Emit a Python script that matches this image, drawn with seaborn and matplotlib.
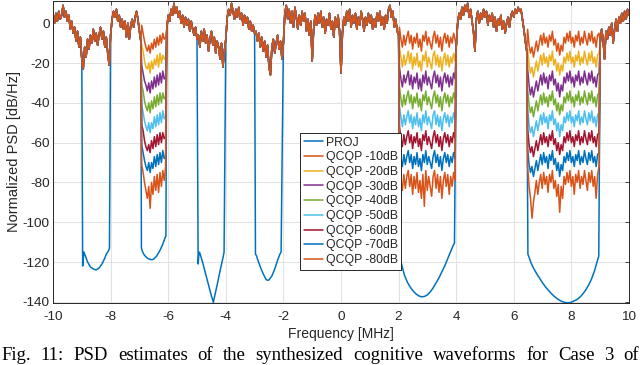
import numpy as np
import pandas as pd
import matplotlib
matplotlib.use("Agg")
import matplotlib.pyplot as plt
import seaborn as sns

# ------------------------------------------------------------------ data
series_names = ["PROJ", "QCQP -10dB", "QCQP -20dB", "QCQP -30dB", "QCQP -40dB",
                "QCQP -50dB", "QCQP -60dB", "QCQP -70dB", "QCQP -80dB"]
series_colors = ["#0072BD", "#D95319", "#EDB120", "#7E2F8E", "#77AC30",
                 "#4DBEEE", "#A2142F", "#0072BD", "#D95319"]
x_ticks = [-10, -8, -6, -4, -2, 0, 2, 4, 6, 8, 10]
y_ticks = [-140, -120, -100, -80, -60, -40, -20, 0]
caption = "Fig. 11: PSD estimates of the synthesized cognitive waveforms for Case 3 of"

# shared PSD (all waveforms) on a 0.05 MHz grid
common_a = [3, 0, 5, 1, 6, 2, 4, 9, 3, 6, 1, 4, -3, 1, -5, -2, -9, -4, -12, -7, -18,
            -23, -12, -17, -8, -13, -6, -10, -3, -9, -5, -11, -6, -2, -8, -4, -12, -7, -15, -21,
            -6, 2, 6, 3, 7, 1, 4, -2, 2, -3, 1, -7, 0, -8, -1, 2, -2, 3, 6, 2, -4, -9]
common_b = [-3, 4, 1, 7, 4, 10, 5, 8, 3, 6, 0, 4, -2, 3, -1, 2, -4, 1, -3, -6, -2, -8,
            -6, -12, -4, -9, -3, -10, -6, -14, -8, -4, -11, -7, -15, -9, -12, -18, -10, -22, -14,
            -8, 3, 7, 4, 10, 6, 2, 7, 3, 8, 2, 5, -1, 4, 0, 3, -3, 1, -4, -1, -5,
            -4, -9, -5, -12, -7, -14, -9, -17, -11, -22, -26, -12, -8, -15, -10, -6, -13, -9, -18,
            -10, 5, 9, 2, 7, 0, 6, -2, 8, 3, -3, 4, -1, 6, 1, 5, -4, 2, -6, 1,
            -19, -3, 4, -1, 5, 0, 6, -2, 3, -5, 2, -1, 5, -3, 1, -7, 3, -2, 4, -4,
            -25, -5, 3, -1, 6, 1, 7, -2, 4, 0, 5, -3, 3, -1, 6, 2, -4, 3, -1, 5,
            0, 4, -3, 2, -2, 5, 1, 6, -1, 3, -3, 4, 0, 7, 9, 3, 6, -2, 2, -4, -6]
common_c = [-12, 0, 5, 2, 8, 4, 9, 6, 10, 3, 7, 1, -4, -14, 2, 6, 0, 5, 2, 7,
            3, 6, -1, 4, 1, 5, -2, 3, -4, 2, -1, 4, -3, 1, -5, 0, 3, -2, 4, 6,
            3, 7, 5, 8, 6, 7, 2, -3, -9, -14]
common_d = [-10, -3, -8, -18, -4, -8, -2, -6, 0, -10, -3, 2, -4, 3, 0, 5, 1, 6, 2, 7, 4]

# PROJ nulls
null_a_freq = [-8.97, -8.93, -8.9, -8.85, -8.8, -8.7, -8.6, -8.5, -8.4, -8.3, -8.2, -8.15, -8.1, -8.06, -8.04]
null_a_psd = [-122, -115, -116, -118, -120, -122.5, -123.5, -124, -123, -121, -118, -116, -115, -114, -113]
null_b_freq = [-6.93, -6.9, -6.85, -6.8, -6.7, -6.6, -6.55, -6.5, -6.4, -6.3, -6.2, -6.15, -6.1, -6.08]
null_b_psd = [-113, -114.5, -116, -117, -118.3, -118.8, -118.8, -118.5, -117, -114.5, -111.5, -109.5, -107.5, -107]
null_c_freq = [-4.96, -4.93, -4.9, -4.8, -4.7, -4.6, -4.5, -4.45, -4.43, -4.4, -4.3, -4.2, -4.1, -4.06]
null_c_psd = [-121, -115, -115.5, -120.5, -126, -131.5, -137, -139.5, -140.3, -138, -131.5, -124.5, -118, -115]
null_d_freq = [-2.97, -2.93, -2.9, -2.8, -2.7, -2.6, -2.55, -2.5, -2.4, -2.3, -2.2, -2.12, -2.08]
null_d_psd = [-116, -117, -118.5, -122.5, -126, -128.8, -129.2, -129, -127, -123.5, -119, -116, -115]
null_e_freq = [2.03, 2.06, 2.1, 2.2, 2.3, 2.4, 2.5, 2.6, 2.7, 2.8, 2.9, 3.0, 3.1, 3.2, 3.3,
               3.4, 3.5, 3.6, 3.7, 3.8, 3.9, 3.94]
null_e_psd = [-116, -118, -121, -126.5, -130, -132.5, -134.5, -136, -137, -137.5, -137.3, -136.5,
              -135, -133, -130.5, -128, -125, -122, -118.5, -115, -111.5, -110.5]
null_f_freq = [6.49, 6.55, 6.6, 6.7, 6.8, 6.9, 7.0, 7.1, 7.2, 7.3, 7.4, 7.5, 7.6, 7.7, 7.8, 7.9,
               8.0, 8.1, 8.2, 8.3, 8.4, 8.5, 8.6, 8.7, 8.8, 8.9, 8.95]
null_f_psd = [-116, -118.5, -120.5, -123.5, -126, -128.3, -130.5, -132.5, -134.2, -135.8, -137.2,
              -138.4, -139.3, -140, -140.4, -140.5, -140.2, -139.5, -138.8, -137.6, -136, -134,
              -131.5, -128.5, -124.5, -119.5, -117]

# QCQP notch bands (-6.92..-6.09, 2.03..3.96, 6.48..8.96 MHz)
notch_b_10 = [-1, -5, -9, -12, -14, -11, -15, -10, -13, -8, -12, -7, -11, -6, -10, -5, -8, -7]
notch_b_20 = [-11, -14, -19, -22, -23, -20, -25, -19, -23, -18, -21, -16, -22, -15, -20, -16, -18, -17]
notch_b_30 = [-21, -25, -29, -31, -34, -30, -35, -29, -33, -27, -32, -26, -31, -25, -30, -24, -28, -27]
notch_b_40 = [-31, -34, -39, -42, -44, -40, -45, -39, -43, -37, -42, -36, -41, -35, -40, -35, -38, -37]
notch_b_50 = [-41, -45, -49, -52, -54, -50, -55, -50, -53, -47, -52, -46, -51, -45, -50, -44, -48, -47]
notch_b_60 = [-51, -54, -59, -62, -64, -61, -65, -59, -63, -57, -62, -56, -61, -55, -60, -55, -58, -57]
notch_b_70 = [-61, -65, -69, -72, -74, -70, -75, -70, -73, -67, -72, -66, -71, -65, -70, -64, -68, -67]
notch_b_80 = [-71, -75, -80, -84, -88, -82, -93, -80, -86, -77, -84, -76, -85, -75, -82, -74, -79, -72]

notch_e_10 = [-2, -8, -12, -6, -11, -7, -4, -10, -6, -13, -7, -10, -5, -12, -8, -14, -6, -9, -4, -11,
              -7, -10, -13, -7, -4, -10, -6, -12, -7, -14, -8, -5, -10, -6, -12, -7, -10, -5, -8]
notch_e_20 = [-12, -17, -22, -16, -21, -18, -14, -20, -15, -23, -17, -21, -15, -22, -19, -24, -16, -19, -14, -22,
              -17, -20, -23, -16, -14, -21, -16, -22, -17, -24, -18, -15, -21, -16, -22, -17, -20, -15, -19]
notch_e_30 = [-22, -28, -32, -26, -30, -27, -24, -31, -26, -33, -27, -30, -25, -33, -28, -34, -26, -30, -24, -31,
              -27, -30, -33, -27, -24, -30, -26, -32, -27, -34, -28, -25, -30, -26, -32, -27, -31, -25, -28]
notch_e_40 = [-32, -38, -42, -36, -41, -37, -34, -40, -36, -43, -37, -40, -35, -42, -38, -44, -36, -39, -34, -41,
              -37, -40, -43, -37, -34, -40, -36, -42, -37, -44, -38, -35, -40, -36, -42, -37, -40, -35, -38]
notch_e_50 = [-42, -47, -52, -46, -51, -47, -44, -50, -46, -53, -47, -51, -45, -52, -48, -54, -46, -50, -44, -51,
              -47, -50, -53, -46, -44, -51, -46, -52, -47, -54, -48, -45, -50, -46, -52, -47, -50, -45, -48]
notch_e_60 = [-52, -58, -62, -56, -61, -57, -54, -60, -56, -63, -57, -60, -55, -62, -58, -64, -56, -59, -54, -61,
              -57, -60, -63, -57, -54, -60, -56, -62, -57, -64, -58, -55, -60, -56, -62, -57, -60, -55, -58]
notch_e_70 = [-62, -68, -72, -66, -71, -67, -64, -70, -66, -73, -67, -71, -65, -72, -68, -74, -66, -70, -64, -71,
              -67, -70, -73, -67, -64, -70, -66, -72, -67, -74, -68, -65, -70, -66, -72, -67, -70, -65, -68]
notch_e_80 = [-72, -79, -84, -76, -83, -77, -74, -82, -76, -86, -77, -83, -75, -85, -79, -88, -76, -92, -74, -84,
              -77, -82, -87, -77, -74, -83, -76, -85, -77, -88, -79, -75, -82, -76, -86, -77, -82, -75, -79]

notch_f_10 = [-3, -11, -15, -12, -17, -13, -9, -14, -10, -6, -11, -5, -10, -7, -12, -6, -9, -4, -11, -8,
              -14, -10, -16, -11, -14, -7, -10, -5, -9, -4, -10, -7, -12, -6, -9, -4, -11, -7, -10, -4,
              -8, -11, -5, -9, -4, -10, -7, -12, -6, -5]
notch_f_20 = [-13, -21, -25, -22, -27, -23, -19, -24, -20, -16, -21, -15, -20, -17, -22, -16, -19, -14, -21, -18,
              -24, -20, -26, -21, -24, -17, -20, -15, -19, -14, -20, -17, -22, -16, -19, -14, -21, -17, -20, -14,
              -18, -21, -15, -19, -14, -20, -17, -22, -16, -15]
notch_f_30 = [-23, -31, -36, -32, -37, -33, -29, -34, -30, -26, -31, -25, -30, -27, -33, -26, -29, -24, -31, -28,
              -34, -30, -37, -31, -34, -27, -30, -25, -29, -24, -30, -27, -32, -26, -29, -24, -31, -27, -30, -24,
              -28, -31, -25, -29, -24, -30, -27, -32, -26, -25]
notch_f_40 = [-33, -41, -45, -42, -47, -43, -39, -44, -40, -36, -41, -35, -40, -37, -42, -36, -39, -34, -41, -38,
              -44, -40, -46, -41, -44, -37, -40, -35, -39, -34, -40, -37, -42, -36, -39, -34, -41, -37, -40, -34,
              -38, -41, -35, -39, -34, -40, -37, -42, -36, -35]
notch_f_50 = [-43, -51, -55, -52, -57, -53, -49, -54, -50, -46, -51, -45, -50, -47, -53, -46, -49, -44, -51, -48,
              -54, -50, -57, -51, -54, -47, -50, -45, -49, -44, -50, -47, -52, -46, -49, -44, -51, -47, -50, -44,
              -48, -51, -45, -49, -44, -50, -47, -52, -46, -45]
notch_f_60 = [-53, -61, -65, -62, -67, -63, -59, -64, -60, -56, -61, -55, -60, -57, -62, -56, -59, -54, -61, -58,
              -64, -60, -66, -61, -64, -57, -60, -55, -59, -54, -60, -57, -62, -56, -59, -54, -61, -57, -60, -54,
              -58, -61, -55, -59, -54, -60, -57, -62, -56, -55]
notch_f_70 = [-63, -71, -75, -72, -77, -73, -69, -74, -70, -66, -71, -65, -70, -67, -73, -66, -69, -64, -71, -68,
              -74, -70, -77, -71, -74, -67, -70, -65, -69, -64, -70, -67, -72, -66, -69, -64, -71, -67, -70, -64,
              -68, -71, -65, -69, -64, -70, -67, -72, -66, -65]
notch_f_80 = [-72, -82, -88, -98, -90, -85, -79, -86, -80, -76, -83, -75, -81, -77, -85, -76, -80, -74, -83, -79,
              -87, -81, -95, -82, -88, -77, -81, -75, -80, -74, -82, -77, -86, -76, -80, -74, -83, -77, -81, -74,
              -79, -84, -75, -80, -74, -82, -77, -88, -76, -72]

# ------------------------------------------------------------------ assemble
fa = np.linspace(-10.0, -6.95, len(common_a))
fb = np.linspace(-6.05, 2.0, len(common_b))
fc = np.linspace(4.0, 6.45, len(common_c))
fd = np.linspace(9.0, 10.0, len(common_d))
fB = np.linspace(-6.92, -6.09, len(notch_b_10))
fE = np.linspace(2.03, 3.96, len(notch_e_10))
fF = np.linspace(6.48, 8.96, len(notch_f_10))

common_f = np.concatenate([fa, fb, fc, fd])
common_v = np.concatenate([common_a, common_b, common_c, common_d]).astype(float)
proj_gaps = [(-8.99, -8.01), (-4.99, -4.01), (-2.99, -2.01)]
keep = ~np.any([(common_f > lo) & (common_f < hi) for lo, hi in proj_gaps], axis=0)
proj_f = np.concatenate([common_f[keep], null_a_freq, null_b_freq, null_c_freq,
                         null_d_freq, null_e_freq, null_f_freq])
proj_v = np.concatenate([common_v[keep], null_a_psd, null_b_psd, null_c_psd,
                         null_d_psd, null_e_psd, null_f_psd])
o = np.argsort(proj_f)
frames = [pd.DataFrame({"Frequency": proj_f[o], "PSD": proj_v[o], "Series": "PROJ"})]

notches = [(notch_b_10, notch_e_10, notch_f_10), (notch_b_20, notch_e_20, notch_f_20),
           (notch_b_30, notch_e_30, notch_f_30), (notch_b_40, notch_e_40, notch_f_40),
           (notch_b_50, notch_e_50, notch_f_50), (notch_b_60, notch_e_60, notch_f_60),
           (notch_b_70, notch_e_70, notch_f_70), (notch_b_80, notch_e_80, notch_f_80)]
for name, (nb, ne, nf) in zip(series_names[1:], notches):
    f = np.concatenate([fa, fB, fb, fE, fc, fF, fd])
    v = np.concatenate([common_a, nb, common_b, ne, common_c, nf, common_d]).astype(float)
    frames.append(pd.DataFrame({"Frequency": f, "PSD": v, "Series": name}))
df = pd.concat(frames, ignore_index=True)

# ------------------------------------------------------------------ plot
sns.set_theme(style="white")
plt.rcParams["font.family"] = ["Liberation Sans", "DejaVu Sans"]
plt.rcParams["axes.unicode_minus"] = False

fig = plt.figure(figsize=(6.4, 3.65), dpi=100)
ax = fig.add_axes([53 / 640, 62 / 365, 576 / 640, 302 / 365])

sns.lineplot(data=df, x="Frequency", y="PSD", hue="Series", hue_order=series_names,
             palette=dict(zip(series_names, series_colors)), estimator=None, sort=False,
             linewidth=1.1, legend=False, ax=ax)

ax.set_xlim(-10, 10)
ax.set_ylim(-140.6, 11.2)
ax.set_xticks(x_ticks)
ax.set_yticks(y_ticks)
ax.grid(True, color="#E3E3E3", linewidth=0.8)
ax.set_axisbelow(True)
for s in ax.spines.values():
    s.set_color("#262626")
    s.set_linewidth(0.7)
ax.tick_params(direction="in", top=True, right=True, length=3, width=0.6,
               colors="#262626", labelsize=9.7)
ax.tick_params(axis="x", pad=5.5)
ax.tick_params(axis="y", pad=2.5)
ax.set_xlabel("Frequency [MHz]", fontsize=10, color="#262626", labelpad=3)
ax.set_ylabel("Normalized PSD [dB/Hz]", fontsize=10.5, color="#262626", labelpad=1)

handles = ax.get_lines()[:len(series_names)]
leg = ax.legend(handles, series_names, loc="upper left",
                bbox_to_anchor=((300 - 53) / 576, 1 - (133 - 1) / 302),
                borderaxespad=0, fontsize=8.8, handlelength=1.6, handletextpad=0.2,
                labelspacing=0.22, borderpad=0.3, fancybox=False, framealpha=1)
leg.get_frame().set_edgecolor("#262626")
leg.get_frame().set_linewidth(0.7)

# justified caption
fig.canvas.draw()
renderer = fig.canvas.get_renderer()
words = caption.split()
texts = [fig.text(0, 5.5 / 365, w, fontsize=13.5, family=["Liberation Serif", "DejaVu Serif"],
                  va="baseline", ha="left", color="black") for w in words]
widths = [t.get_window_extent(renderer).width for t in texts]
left_px, right_px = 1.0, 639.0
gap = (right_px - left_px - sum(widths)) / (len(words) - 1)
pos = left_px
for t, w in zip(texts, widths):
    t.set_x(pos / 640)
    pos += w + gap

fig.savefig("out.png", dpi=100)
